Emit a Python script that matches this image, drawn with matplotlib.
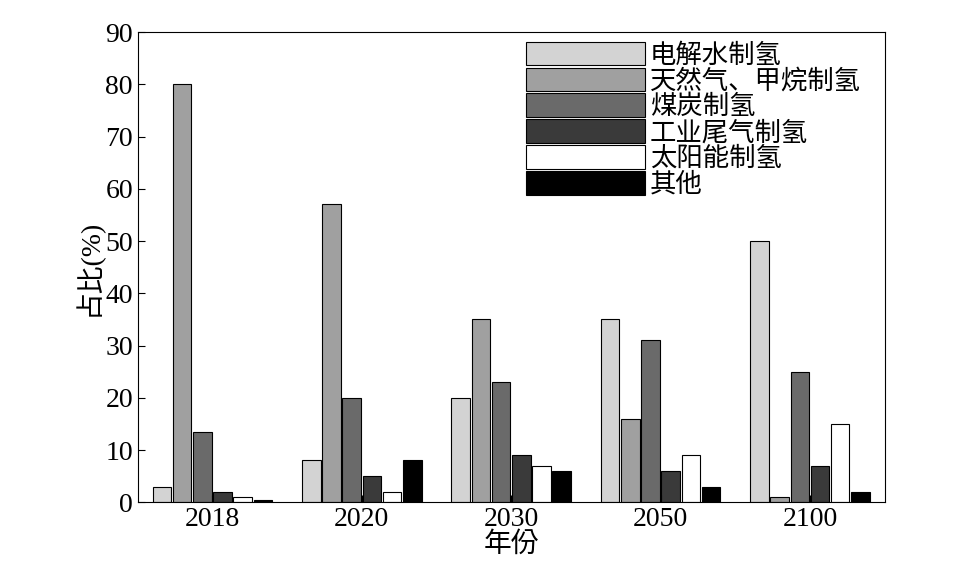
import matplotlib
matplotlib.use("Agg")
import matplotlib.pyplot as plt
import numpy as np

years = ["2018", "2020", "2030", "2050", "2100"]
series = ["电解水制氢", "天然气、甲烷制氢", "煤炭制氢", "工业尾气制氢", "太阳能制氢", "其他"]
values = [
    [3, 8, 20, 35, 50],
    [80, 57, 35, 16, 1],
    [13.5, 20, 23, 31, 25],
    [2, 5, 9, 6, 7],
    [1, 2, 7, 9, 15],
    [0.5, 8, 6, 3, 2],
]
colors = ["#d3d3d3", "#a0a0a0", "#6a6a6a", "#3a3a3a", "#ffffff", "#000000"]

plt.rcParams["font.family"] = ["Liberation Serif", "Noto Sans CJK JP", "Noto Sans CJK SC", "Noto Sans CJK TC"]
fig = plt.figure(figsize=(9.7, 5.84), dpi=100)
ax = fig.add_axes([0.142, 0.140, 0.770, 0.805])
x = np.arange(len(years))
w = 0.135
for i, (s, v, c) in enumerate(zip(series, values, colors)):
    ax.bar(x + (i - 2.5) * w, v, w * 0.92, color=c, edgecolor="black", linewidth=0.8, label=s)
ax.set_xlim(-0.5, 4.5)
ax.set_ylim(0, 90)
ax.set_yticks(range(0, 91, 10))
ax.set_xticks(x)
ax.set_xticklabels(years)
ax.tick_params(direction="in", length=5, labelsize=20)
ax.set_xlabel("年份", fontsize=20, labelpad=0)
ax.set_ylabel("占比(%)", fontsize=20, labelpad=2)
ax.legend(loc="upper right", bbox_to_anchor=(1.0, 1.03), frameon=False,
          prop={"size": 19}, handlelength=4.5, handleheight=1.0,
          labelspacing=0.0, handletextpad=0.2)
fig.savefig("out.png")
